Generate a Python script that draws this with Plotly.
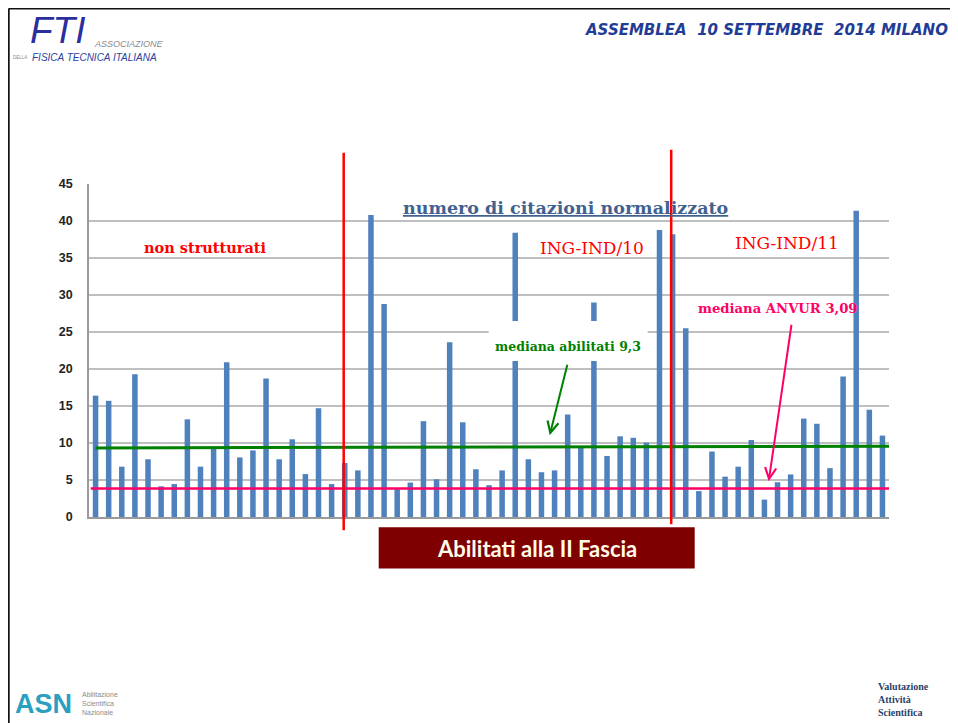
import plotly.graph_objects as go

# citation values per candidate (61 bars)
candidates = list(range(1, 62))
citazioni = [16.4, 15.7, 6.8, 19.3, 7.8, 4.15, 4.45, 13.2, 6.8, 9.35,
             20.9, 8.05, 9.0, 18.7, 7.8, 10.5, 5.8, 14.7, 4.45, 7.3,
             6.3, 40.8, 28.8, 3.75, 4.65, 12.95, 5.1, 23.6, 12.8, 6.45,
             4.3, 6.3, 38.4, 7.8, 6.05, 6.3, 13.85, 9.35, 29.0, 8.25,
             10.9, 10.7, 10.05, 38.8, 38.2, 25.5, 3.5, 8.85, 5.45, 6.8,
             10.4, 2.35, 4.7, 5.75, 13.3, 12.6, 6.6, 19.0, 41.4, 14.5, 11.0]

y_ticks = [0, 5, 10, 15, 20, 25, 30, 35, 40, 45]

# median lines as drawn on the slide (start / end level)
mediana_abilitati = [9.33, 9.57]
mediana_anvur = [3.84, 3.84]

# slide is 958x723; the page body adds an 8px margin, so the figure
# covers slide pixels 8..958 / 8..723
OFF = 8
W, H = 958 - OFF, 723 - OFF
X0, X1 = 89.3, 889.3      # plot area in slide pixels
YB, YT = 516.7, 184.3


def px(x):
    return (x - X0) / (X1 - X0)


def py(y):
    return (YB - y) / (YB - YT)


fig = go.Figure()

fig.add_trace(go.Bar(
    x=candidates,
    y=citazioni,
    marker=dict(color="#4f81bd", line=dict(width=0)),
    showlegend=False,
    hoverinfo="y",
))

shapes = []

# slide frame
shapes.append(dict(type="line", xref="paper", yref="paper",
                   x0=px(9), x1=px(958), y0=py(9), y1=py(9),
                   line=dict(color="#111111", width=2)))
shapes.append(dict(type="line", xref="paper", yref="paper",
                   x0=px(9), x1=px(9), y0=py(9), y1=py(723),
                   line=dict(color="#111111", width=2)))

# median lines
shapes.append(dict(type="line", xref="x", yref="y",
                   x0=candidates[0], x1=candidates[-1] + 0.75,
                   y0=mediana_abilitati[0], y1=mediana_abilitati[1],
                   line=dict(color="#008000", width=3)))
shapes.append(dict(type="line", xref="paper", yref="y",
                   x0=px(91), x1=1.0,
                   y0=mediana_anvur[0], y1=mediana_anvur[1],
                   line=dict(color="#ff0066", width=2.5)))

# white box behind the green label
shapes.append(dict(type="rect", xref="paper", yref="paper",
                   x0=px(489), x1=px(648), y0=py(361), y1=py(321),
                   fillcolor="white", line=dict(width=0), layer="above"))

# red separators
shapes.append(dict(type="line", xref="paper", yref="paper",
                   x0=px(344), x1=px(344), y0=py(153), y1=py(530),
                   line=dict(color="#ff0000", width=2.5)))
shapes.append(dict(type="line", xref="paper", yref="paper",
                   x0=px(671.5), x1=px(671.5), y0=py(150), y1=py(524),
                   line=dict(color="#ff0000", width=2.5)))

# title box under the chart
shapes.append(dict(type="rect", xref="paper", yref="paper",
                   x0=px(379), x1=px(695), y0=py(568), y1=py(527),
                   fillcolor="#7f0000", line=dict(width=0)))

SERIF = "DejaVu Serif"
ann = []


def label(text, x, y, size, color, family=SERIF, xanchor="center", **kw):
    ann.append(dict(text=text, x=px(x), y=py(y), xref="paper", yref="paper",
                    showarrow=False, xanchor=xanchor, yanchor="middle",
                    font=dict(size=size, color=color, family=family), **kw))


def arrow(x_tail, y_tail, x_head, y_head, color):
    ann.append(dict(text="", x=px(x_head), y=py(y_head), xref="paper", yref="paper",
                    ax=x_tail - x_head, ay=y_tail - y_head,
                    showarrow=True, arrowhead=5, arrowsize=1.1,
                    arrowwidth=2, arrowcolor=color))


label("<b><u>numero di citazioni normalizzato</u></b>", 566, 208, 17.5, "#41628f")
label("<b>non strutturati</b>", 206, 248, 14.5, "#ff0000")
label("ING-IND/10", 592, 248, 17, "#ff0000")
label("ING-IND/11", 787, 243, 17, "#ff0000")
label("<b>mediana abilitati 9,3</b>", 568, 347, 12.5, "#008000")
label("<b>mediana ANVUR 3,09</b>", 778, 309, 13.2, "#ff0066")
arrow(568, 363, 550, 435, "#008000")
arrow(792, 323, 769, 481, "#ff0066")

label("<b>Abilitati alla II Fascia</b>", 537, 548, 22, "#fffde8",
      family="Comic Sans MS, Lato")

# header
label("<b><i>ASSEMBLEA\u00a0\u00a010 SETTEMBRE\u00a0\u00a02014 MILANO</i></b>",
      950, 31, 15, "#1f3c96", family="DejaVu Sans", xanchor="right")

# logos (text approximations)
label("<i>FTI</i>", 58, 31, 37, "#2b2f9e", family="Liberation Sans")
label("<i>ASSOCIAZIONE</i>", 92, 45, 9, "#8a8a8a", family="Liberation Sans", xanchor="left")
label("<i>FISICA TECNICA ITALIANA</i>", 30, 58, 10, "#2b3fa0", family="Liberation Sans", xanchor="left")
label("DELLA", 11, 58, 4.5, "#8a8a8a", family="Liberation Sans", xanchor="left")
label("<b>ASN</b>", 44, 703, 27, "#2a9fc0", family="Liberation Sans")
label("Abilitazione<br>Scientifica<br>Nazionale", 80, 703, 7, "#8a8a8a",
      family="Liberation Sans", xanchor="left", align="left")
label("<b>Valutazione<br>Attività<br>Scientifica</b>", 876, 699, 10, "#2a3f6a",
      family="Liberation Serif", xanchor="left", align="left")

fig.update_layout(
    width=W,
    height=H,
    margin=dict(l=X0 - OFF, r=958 - X1, t=YT - OFF, b=723 - YB, pad=0),
    paper_bgcolor="white",
    plot_bgcolor="white",
    bargap=0.58,
    shapes=shapes,
    annotations=ann,
    showlegend=False,
    xaxis=dict(
        range=[0.5, 61.5],
        showticklabels=False,
        showgrid=False,
        zeroline=False,
        showline=True,
        linecolor="#9a9a9a",
        linewidth=1.5,
        ticks="",
    ),
    yaxis=dict(
        range=[0, 45],
        tickvals=y_ticks,
        showgrid=True,
        gridcolor="#bfbfbf",
        gridwidth=1.5,
        zeroline=False,
        showline=True,
        linecolor="#9a9a9a",
        linewidth=1.5,
        ticks="",
        ticklabelstandoff=12,
        tickfont=dict(family="Liberation Sans", size=12.5, color="#222222", weight="bold"),
    ),
)

fig.write_html("out.html")
